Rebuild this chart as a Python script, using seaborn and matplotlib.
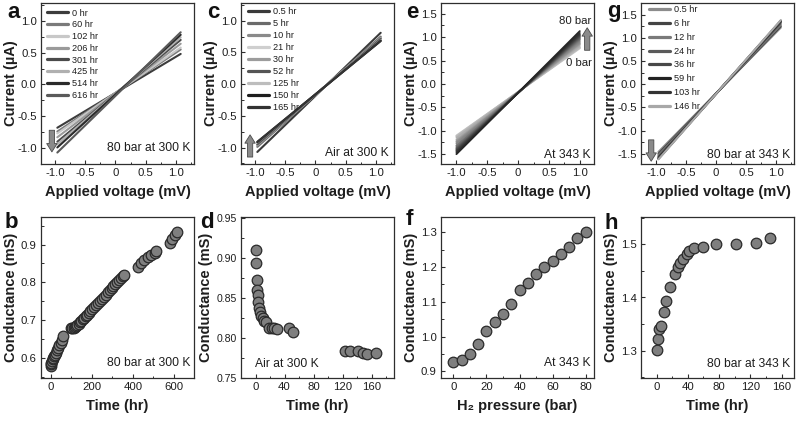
import numpy as np
import pandas as pd
import matplotlib
matplotlib.use("Agg")
import matplotlib.pyplot as plt
import seaborn as sns
from matplotlib.lines import Line2D
from matplotlib.ticker import MultipleLocator, FuncFormatter

# ---------------- data ----------------
# (a) I-V at 80 bar, 300 K
a_labels = ["0 hr", "60 hr", "102 hr", "206 hr", "301 hr", "425 hr", "514 hr", "616 hr"]
a_volt = [-0.96, 1.08]
a_left = [-0.68, -0.74, -0.77, -0.83, -0.90, -0.94, -0.99, -1.07]
a_right = [0.48, 0.55, 0.58, 0.64, 0.70, 0.74, 0.78, 0.82]
a_colors = ["#3c3c3c", "#7a7a7a", "#c8c8c8", "#9a9a9a", "#4a4a4a", "#b0b0b0", "#2a2a2a", "#5a5a5a"]

# (c) I-V in air, 300 K
c_labels = ["0.5 hr", "5 hr", "10 hr", "21 hr", "30 hr", "52 hr", "125 hr", "150 hr", "165 hr"]
c_volt = [-0.96, 1.08]
c_left = [-1.07, -0.99, -0.97, -0.955, -0.955, -0.95, -0.92, -0.915, -0.91]
c_right = [0.81, 0.75, 0.735, 0.72, 0.72, 0.715, 0.69, 0.685, 0.68]
c_colors = ["#3a3a3a", "#6a6a6a", "#8a8a8a", "#cfcfcf", "#9c9c9c", "#555555", "#bdbdbd", "#1e1e1e", "#333333"]

# (e) I-V vs H2 pressure at 343 K
e_pressure = [0, 5, 10, 15, 20, 25, 30, 35, 40, 45, 50, 55, 60, 65, 70, 75, 80]
e_volt = [-1.0, 1.0]
e_left = [-1.10, -1.11, -1.12, -1.15, -1.19, -1.22, -1.24, -1.27, -1.31,
          -1.33, -1.36, -1.38, -1.40, -1.42, -1.44, -1.47, -1.50]
e_right = [0.76, 0.77, 0.78, 0.81, 0.84, 0.86, 0.88, 0.91, 0.94,
           0.96, 0.98, 1.00, 1.02, 1.04, 1.06, 1.09, 1.13]

# (g) I-V at 80 bar, 343 K
g_labels = ["0.5 hr", "6 hr", "12 hr", "24 hr", "36 hr", "59 hr", "103 hr", "146 hr"]
g_volt = [-0.96, 1.08]
g_left = [-1.46, -1.50, -1.53, -1.56, -1.58, -1.60, -1.61, -1.62]
g_right = [1.22, 1.25, 1.28, 1.32, 1.34, 1.36, 1.37, 1.38]
g_colors = ["#8c8c8c", "#444444", "#7a7a7a", "#5a5a5a", "#484848", "#222222", "#333333", "#a8a8a8"]

# (b) conductance vs time, 80 bar, 300 K
b_time = [0, 2, 4, 7, 10, 13, 17, 21, 26, 31, 37, 43, 49, 55, 61,
          100, 106, 112, 118, 124, 130, 136, 143, 150, 157, 164, 171, 178, 186, 194,
          203, 212, 222, 232, 242, 252, 261, 270, 279, 288, 297, 306, 315, 324, 333,
          342, 351, 358,
          424, 440, 456, 472, 490, 506, 514,
          580, 592, 604, 616]
b_cond = [0.580, 0.584, 0.588, 0.593, 0.597, 0.601, 0.605, 0.609, 0.614, 0.620,
          0.626, 0.633, 0.640, 0.647, 0.657,
          0.678, 0.679, 0.680, 0.681, 0.684, 0.687, 0.690, 0.694, 0.698, 0.702,
          0.706, 0.710, 0.714, 0.719, 0.724, 0.729, 0.734, 0.740, 0.745, 0.751,
          0.757, 0.762, 0.767, 0.774, 0.779, 0.785, 0.790, 0.796, 0.801, 0.806,
          0.811, 0.816, 0.819,
          0.841, 0.850, 0.858, 0.866, 0.873, 0.879, 0.882,
          0.905, 0.915, 0.925, 0.933]

# (d) conductance vs time in air, 300 K
d_time = [0, 0.3, 2, 2.3, 3, 4, 5.5, 6, 8, 10, 12, 15, 19, 23, 26, 30, 46, 52,
          123, 131, 141, 148, 154, 166]
d_cond = [0.910, 0.893, 0.872, 0.860, 0.853, 0.845, 0.837, 0.833, 0.827, 0.825,
          0.821, 0.820, 0.813, 0.812, 0.813, 0.811, 0.813, 0.807,
          0.784, 0.784, 0.784, 0.781, 0.780, 0.781]

# (f) conductance vs H2 pressure at 343 K
f_pressure = [0, 5, 10, 15, 20, 25, 30, 35, 40, 45, 50, 55, 60, 65, 70, 75, 80]
f_cond = [0.927, 0.933, 0.949, 0.978, 1.015, 1.043, 1.064, 1.095, 1.135,
          1.155, 1.180, 1.200, 1.218, 1.239, 1.259, 1.283, 1.301]

# (h) conductance vs time, 80 bar, 343 K
h_time = [0, 1.3, 3.4, 6, 10, 12, 17.6, 24, 27, 30, 34, 38.6, 42, 48.5, 59,
          75.6, 102, 127, 145]
h_cond = [1.301, 1.323, 1.340, 1.347, 1.373, 1.394, 1.419, 1.445, 1.457, 1.465,
          1.473, 1.4825, 1.4875, 1.492, 1.495, 1.500, 1.500, 1.5025, 1.5125]

# ---------------- style ----------------
sns.set_theme(style="ticks")
plt.rcParams["font.family"] = ["Liberation Sans", "DejaVu Sans"]
plt.rcParams["axes.edgecolor"] = "#2e2e2e"
plt.rcParams["axes.linewidth"] = 0.9
TXT = "#1e1e1e"
TICKFAM = ["Liberation Sans Narrow", "Liberation Sans", "DejaVu Sans"]

W, H = 800, 421
fig = plt.figure(figsize=(W / 100, H / 100), dpi=100)
fig.patch.set_facecolor("white")


def make_ax(left_px, top_px, w_px=153, h_px=161):
    return fig.add_axes([left_px / W, 1 - (top_px + h_px) / H, w_px / W, h_px / H])


def fmt_x_iv(v, pos):
    if abs(v) < 1e-9:
        return "0"
    return f"{v:.1f}".replace("\u2212", "-")


def style(ax, xlim, ylim, xmaj, xmin, ymaj, ymin, xfmt, yfmt, xlabel, ylabel,
          ylab_x=-0.15, tick_size=8.2):
    ax.set_xlim(*xlim)
    ax.set_ylim(*ylim)
    ax.xaxis.set_major_locator(MultipleLocator(xmaj))
    ax.xaxis.set_minor_locator(MultipleLocator(xmin))
    ax.yaxis.set_major_locator(MultipleLocator(ymaj))
    ax.yaxis.set_minor_locator(MultipleLocator(ymin))
    ax.xaxis.set_major_formatter(FuncFormatter(xfmt))
    ax.yaxis.set_major_formatter(FuncFormatter(yfmt))
    ax.tick_params(which="major", direction="in", length=3, width=0.8,
                   color="#2e2e2e", pad=3, labelsize=8.2, labelcolor=TXT,
                   top=False, right=False)
    ax.tick_params(axis="y", which="major", labelsize=tick_size)
    ax.tick_params(which="minor", direction="in", length=1.8, width=0.7,
                   color="#2e2e2e", top=False, right=False)
    for lab in ax.get_xticklabels() + ax.get_yticklabels():
        lab.set_family(TICKFAM)
    for s in ax.spines.values():
        s.set_visible(True)
        s.set_color("#2e2e2e")
        s.set_linewidth(0.9)
    ax.set_xlabel(xlabel, fontsize=10.5, fontweight="bold", color=TXT,
                  family=["Liberation Sans", "DejaVu Sans"])
    ax.set_ylabel(ylabel, fontsize=10.5, fontweight="bold", color=TXT)
    ax.xaxis.set_label_coords(0.5, -0.13)
    ax.yaxis.set_label_coords(ylab_x, 0.5)
    ax.set_facecolor("white")


def iv_lines(ax, volt, left, right, labels, colors, lw=1.5):
    rows = []
    for lab, l, r in zip(labels, left, right):
        rows.append({"V": volt[0], "I": l, "label": lab})
        rows.append({"V": volt[1], "I": r, "label": lab})
    df = pd.DataFrame(rows)
    sns.lineplot(data=df, x="V", y="I", hue="label", hue_order=labels,
                 palette=colors, lw=lw, legend=False, errorbar=None,
                 sort=False, ax=ax)


def iv_legend(ax, labels, colors, x, y, spacing):
    handles = [Line2D([], [], color=c, lw=2.3) for c in colors]
    leg = ax.legend(handles, labels, loc="upper left", bbox_to_anchor=(x, y),
                    frameon=False, fontsize=6.6, handlelength=2.3,
                    handletextpad=0.4, labelspacing=spacing, borderpad=0,
                    borderaxespad=0)
    for t in leg.get_texts():
        t.set_color(TXT)


def block_arrow(ax, tail, head):
    ax.annotate("", xy=head, xytext=tail,
                arrowprops=dict(arrowstyle="simple,head_width=0.75,head_length=0.6,tail_width=0.38",
                                fc="#8a8a8a", ec="#4a4a4a", lw=0.6,
                                shrinkA=0, shrinkB=0, mutation_scale=10))


def note(ax, x, y, s, ha="right"):
    ax.text(x, y, s, transform=ax.transAxes, ha=ha, va="center",
            fontsize=8.7, color=TXT)


def scatter(ax, x, y):
    sns.scatterplot(x=x, y=y, s=58, color="#7f7f7f", edgecolor="#2a2a2a",
                    linewidth=0.9, ax=ax, zorder=3, clip_on=False)


fmt1 = lambda v, p: f"{v:.1f}"
fmt2 = lambda v, p: f"{v:.2f}"
fmt0 = lambda v, p: f"{v:.0f}"
lefts = [41, 241, 441, 641]

# ---- (a)
ax = make_ax(lefts[0], 3)
iv_lines(ax, a_volt, a_left, a_right, a_labels, a_colors)
style(ax, (-1.23, 1.30), (-1.25, 1.28), 0.5, 0.25, 0.5, 0.25, fmt_x_iv, fmt1,
      "Applied voltage (mV)", "Current (\u00b5A)")
iv_legend(ax, a_labels, a_colors, 0.04, 0.965, 0.30)
block_arrow(ax, (-1.05, -0.72), (-1.05, -1.06))
note(ax, 0.974, 0.10, "80 bar at 300 K")

# ---- (c)
ax = make_ax(lefts[1], 3)
iv_lines(ax, c_volt, c_left, c_right, c_labels, c_colors)
style(ax, (-1.23, 1.30), (-1.26, 1.28), 0.5, 0.25, 0.5, 0.25, fmt_x_iv, fmt1,
      "Applied voltage (mV)", "Current (\u00b5A)")
iv_legend(ax, c_labels, c_colors, 0.045, 0.975, 0.33)
block_arrow(ax, (-1.08, -1.15), (-1.08, -0.80))
note(ax, 0.967, 0.066, "Air at 300 K")

# ---- (e)
ax = make_ax(lefts[2], 3)
e_labels = [f"{p} bar" for p in e_pressure]
e_colors = sns.blend_palette(["#cfcfcf", "#262626"], len(e_pressure))
iv_lines(ax, e_volt, e_left, e_right, e_labels, e_colors, lw=1.3)
style(ax, (-1.25, 1.23), (-1.71, 1.73), 0.5, 0.25, 0.5, 0.25, fmt_x_iv, fmt1,
      "Applied voltage (mV)", "Current (\u00b5A)")
block_arrow(ax, (1.12, 0.72), (1.12, 1.20))
ax.text(1.19, 1.35, "80 bar", ha="right", va="center", fontsize=8.2, color=TXT,
        family=TICKFAM)
ax.text(1.19, 0.44, "0 bar", ha="right", va="center", fontsize=8.2, color=TXT,
        family=TICKFAM)
note(ax, 0.978, 0.056, "At 343 K")

# ---- (g)
ax = make_ax(lefts[3], 3)
iv_lines(ax, g_volt, g_left, g_right, g_labels, g_colors)
style(ax, (-1.25, 1.30), (-1.72, 1.75), 0.5, 0.25, 0.5, 0.25, fmt_x_iv, fmt1,
      "Applied voltage (mV)", "Current (\u00b5A)")
iv_legend(ax, g_labels, g_colors, 0.052, 0.985, 0.52)
block_arrow(ax, (-1.08, -1.20), (-1.08, -1.66))
note(ax, 0.978, 0.056, "80 bar at 343 K")

# ---- (b)
ax = make_ax(lefts[0], 217)
scatter(ax, b_time, b_cond)
style(ax, (-47, 698), (0.547, 0.973), 200, 100, 0.1, 0.05, fmt0, fmt1,
      "Time (hr)", "Conductance (mS)")
note(ax, 0.974, 0.093, "80 bar at 300 K")

# ---- (d)
ax = make_ax(lefts[1], 217)
scatter(ax, d_time, d_cond)
style(ax, (-20, 191), (0.75, 0.951), 40, 20, 0.05, 0.025, fmt0, fmt2,
      "Time (hr)", "Conductance (mS)", ylab_x=-0.185, tick_size=7.6)
note(ax, 0.092, 0.089, "Air at 300 K", ha="left")

# ---- (f)
ax = make_ax(lefts[2], 217)
scatter(ax, f_pressure, f_cond)
style(ax, (-7.5, 85), (0.881, 1.344), 20, 10, 0.1, 0.05, fmt0, fmt1,
      "H\u2082 pressure (bar)", "Conductance (mS)")
note(ax, 0.978, 0.093, "At 343 K")

# ---- (h)
ax = make_ax(lefts[3], 217)
scatter(ax, h_time, h_cond)
style(ax, (-20, 176), (1.249, 1.551), 40, 20, 0.1, 0.05, fmt0, fmt1,
      "Time (hr)", "Conductance (mS)")
note(ax, 0.978, 0.089, "80 bar at 343 K")

# panel letters
letters = [("a", 7, 18), ("c", 207, 18), ("e", 406, 18), ("g", 607, 17),
           ("b", 5, 228), ("d", 200, 228), ("f", 406, 225), ("h", 605, 229)]
for s, x, y in letters:
    fig.text(x / W, 1 - y / H, s, fontsize=16, fontweight="bold", color="#111111",
             ha="left", va="baseline")

fig.savefig("out.png", dpi=100, facecolor="white")
